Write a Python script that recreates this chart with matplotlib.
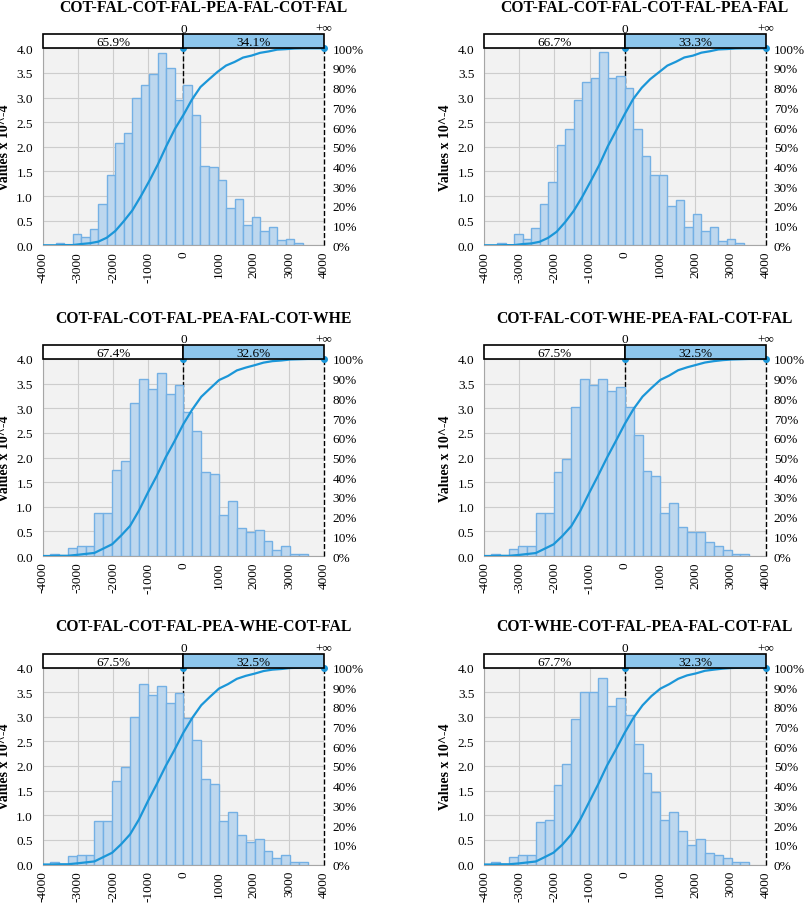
import numpy as np
import matplotlib
matplotlib.use("Agg")
import matplotlib.pyplot as plt

plt.rcParams['font.family'] = ['Liberation Serif', 'DejaVu Serif']

# ---------------- data ----------------
titles = [
    "COT-FAL-COT-FAL-PEA-FAL-COT-FAL",
    "COT-FAL-COT-FAL-COT-FAL-PEA-FAL",
    "COT-FAL-COT-FAL-PEA-FAL-COT-WHE",
    "COT-FAL-COT-WHE-PEA-FAL-COT-FAL",
    "COT-FAL-COT-FAL-PEA-WHE-COT-FAL",
    "COT-WHE-COT-FAL-PEA-FAL-COT-FAL",
]
left_pct = ["65.9%", "66.7%", "67.4%", "67.5%", "67.5%", "67.7%"]
right_pct = ["34.1%", "33.3%", "32.6%", "32.5%", "32.5%", "32.3%"]

bin_index = np.arange(-15, 14)           # bins aligned at 0
bin_widths = [242, 242, 253, 253, 253, 253]

heights_1 = [0.05, 0.0, 0.22, 0.17, 0.33, 0.84, 1.42, 2.08, 2.28, 3.00, 3.25, 3.48, 3.90, 3.60, 2.95,
             3.25, 2.65, 1.62, 1.58, 1.33, 0.76, 0.93, 0.42, 0.58, 0.30, 0.38, 0.10, 0.13, 0.05]
heights_2 = [0.04, 0.0, 0.22, 0.13, 0.35, 0.83, 1.28, 2.03, 2.36, 2.95, 3.32, 3.40, 3.93, 3.40, 3.43,
             3.20, 2.36, 1.82, 1.42, 1.42, 0.80, 0.92, 0.38, 0.63, 0.30, 0.38, 0.08, 0.12, 0.04]
heights_3 = [0.05, 0.0, 0.17, 0.20, 0.20, 0.88, 0.88, 1.75, 1.93, 3.10, 3.60, 3.40, 3.72, 3.28, 3.48,
             2.93, 2.53, 1.70, 1.67, 0.83, 1.12, 0.57, 0.48, 0.52, 0.30, 0.13, 0.20, 0.05, 0.05]
heights_4 = [0.04, 0.0, 0.15, 0.20, 0.20, 0.87, 0.87, 1.70, 1.97, 3.03, 3.60, 3.47, 3.60, 3.35, 3.43,
             3.03, 2.45, 1.73, 1.62, 0.87, 1.07, 0.58, 0.48, 0.48, 0.28, 0.20, 0.13, 0.05, 0.05]
heights_5 = [0.05, 0.0, 0.17, 0.20, 0.20, 0.88, 0.88, 1.70, 1.98, 3.00, 3.67, 3.45, 3.63, 3.28, 3.48,
             2.97, 2.53, 1.73, 1.63, 0.88, 1.07, 0.60, 0.45, 0.52, 0.28, 0.13, 0.20, 0.05, 0.05]
heights_6 = [0.05, 0.0, 0.15, 0.20, 0.20, 0.87, 0.90, 1.62, 2.05, 2.95, 3.50, 3.50, 3.78, 3.22, 3.38,
             3.03, 2.45, 1.85, 1.48, 0.90, 1.07, 0.68, 0.40, 0.52, 0.23, 0.20, 0.13, 0.05, 0.05]
all_heights = [heights_1, heights_2, heights_3, heights_4, heights_5, heights_6]

x_ticks = list(range(-4000, 4001, 1000))
y_ticks = [0.0, 0.5, 1.0, 1.5, 2.0, 2.5, 3.0, 3.5, 4.0]
pct_ticks = [0.0, 0.1, 0.2, 0.3, 0.4, 0.5, 0.6, 0.7, 0.8, 0.9, 1.0]

# ---------------- style ----------------
BAR_FILL = '#BDD7EE'
BAR_EDGE = '#74B0E4'
CURVE = '#1B96D8'
TOPBAR_FILL = '#8DC6EC'
BG = '#F2F2F2'
GRID = '#CDCDCD'

W, H = 809, 904
fig = plt.figure(figsize=(W / 100, H / 100), dpi=100)

col_left = [42.7, 484.0]
row_top = [49.3, 360.0, 668.5]
ax_w = 281.5
ax_h = 197.0
bar_h = 14.0

for i in range(6):
    r, c = divmod(i, 2)
    l = col_left[c]
    t = row_top[r]
    w = bin_widths[i]
    h = np.array(all_heights[i])
    lefts = bin_index * w

    ax = fig.add_axes([l / W, 1 - (t + ax_h) / H, ax_w / W, ax_h / H])
    ax.set_facecolor(BG)
    ax.set_xlim(-4000, 4000)
    ax.set_ylim(0, 4.0)
    ax.set_xticks(x_ticks)
    ax.set_xticklabels([str(v) for v in x_ticks], rotation=90, fontsize=9.5)
    ax.set_yticks(y_ticks)
    ax.set_yticklabels([f"{v:.1f}" for v in y_ticks], fontsize=9.5)
    ax.tick_params(axis='both', length=0)
    ax.tick_params(axis='y', pad=7)
    ax.tick_params(axis='x', pad=4)
    ax.grid(True, color=GRID, lw=0.8, zorder=0)
    ax.set_axisbelow(True)
    for s in ['top', 'right']:
        ax.spines[s].set_visible(False)
    for s in ['left', 'bottom']:
        ax.spines[s].set_color('#A6A6A6')
        ax.spines[s].set_linewidth(0.8)

    ax.plot([0, 0], [0, 4.0], ls='--', color='black', lw=1.0, zorder=2)
    ax.bar(lefts, h, width=w, align='edge', color=BAR_FILL, edgecolor=BAR_EDGE,
           linewidth=1.0, zorder=3)
    ax.plot([4000, 4000], [0, 4.0], ls='--', color='black', lw=1.0, zorder=4, clip_on=False)

    ax.set_ylabel("Values x 10^-4", fontsize=10, fontweight='bold')
    ax.yaxis.set_label_coords(-0.112, 0.5)

    # cumulative curve
    ax2 = ax.twinx()
    ax2.set_ylim(0, 1.0)
    ax2.set_yticks(pct_ticks)
    ax2.set_yticklabels([f"{int(round(p * 100))}%" for p in pct_ticks], fontsize=9.5)
    ax2.tick_params(axis='y', length=0, pad=6)
    for s in ['top', 'right', 'left', 'bottom']:
        ax2.spines[s].set_visible(False)
    edges = np.concatenate([lefts, [lefts[-1] + w]])
    cum = np.concatenate([[0.0], np.cumsum(h)]) / h.sum()
    cx = np.concatenate([[-4000], edges, [4000]])
    cy = np.concatenate([[0.0], cum, [1.0]])
    ax2.plot(cx, cy, color=CURVE, lw=1.6, zorder=5)
    ax2.plot([0, 4000], [1.0, 1.0], 'o', ms=4, color=CURVE, zorder=6, clip_on=False)

    # top percentage bar
    axb = fig.add_axes([l / W, 1 - t / H, ax_w / W, bar_h / H])
    axb.set_xlim(-4000, 4000)
    axb.set_ylim(0, 1)
    axb.axis('off')
    axb.barh([0.5, 0.5], [4000, 4000], left=[-4000, 0], height=1.0,
             color=['white', TOPBAR_FILL], edgecolor='black', linewidth=1.2, clip_on=False)
    axb.text(-2000, 0.42, left_pct[i], ha='center', va='center', fontsize=9.5)
    axb.text(2000, 0.42, right_pct[i], ha='center', va='center', fontsize=9.5)
    axb.text(0, 1.4, "0", ha='center', va='center', fontsize=9.5)
    axb.text(4000, 1.4, "+\u221e", ha='center', va='center', fontsize=9.5)

    fig.text((l + ax_w / 2 + 20) / W, 1 - (t - 41) / H, titles[i], ha='center', va='center',
             fontsize=11.3, fontweight='bold')

fig.savefig("out.png", dpi=100)
